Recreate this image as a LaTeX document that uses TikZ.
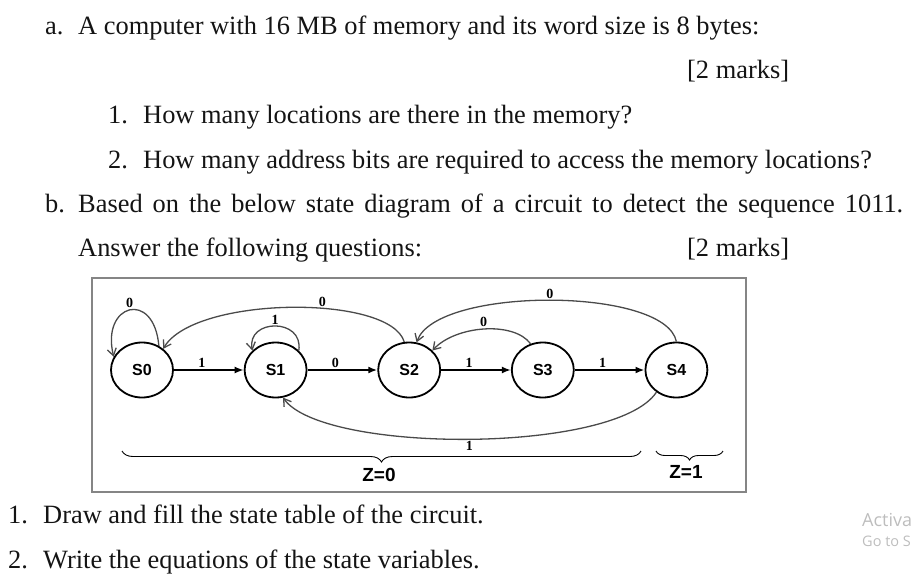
\documentclass[tikz,border=0pt]{standalone}
\usepackage{fontspec}
\setmainfont{Liberation Serif}
\setsansfont{Liberation Sans}
\newfontfamily\winfont{Open Sans}
\usetikzlibrary{calc,arrows.meta,shapes.geometric,decorations.pathreplacing}

\definecolor{framegray}{HTML}{858585}
\definecolor{arcgray}{HTML}{4A4A4A}
\definecolor{markgray}{HTML}{BDBDBD}

\tikzset{
    state/.style={draw, ellipse, line width=1.8pt, minimum width=62pt, minimum height=55pt,
        inner sep=0pt, font=\sffamily\bfseries\fontsize{16}{16}\selectfont},
    txt/.style={anchor=base west, inner sep=0pt, text=black!92,
        font=\fontsize{26.4}{30}\selectfont},
    go/.style={-{Latex[length=9pt,width=7pt]}, line width=1.8pt},
    back/.style={-{Straight Barb[length=7pt,width=9pt]}, line width=1.3pt, draw=arcgray},
    lbl/.style={inner sep=1.5pt, text=black, font=\bfseries\fontsize{14}{14}\selectfont},
    zlbl/.style={inner sep=0pt, font=\sffamily\bfseries\fontsize{19}{19}\selectfont},
}

\begin{document}
\begin{tikzpicture}[x=1pt,y=-1pt]
    \useasboundingbox (0,0) rectangle (913,581);
    \clip (0,0) rectangle (913,581);

    \node[txt] (qa) at (45,34) {a.};
    \node[txt] (qatext) at (78,34) {A computer with 16 MB of memory and its word size is 8 bytes:};
    \node[txt] (marka) at (687,78) {[2 marks]};
    \node[txt] (qa1) at (108,123) {1.};
    \node[txt] (qa1text) at (143,123) {How many locations are there in the memory?};
    \node[txt] (qa2) at (108,168) {2.};
    \node[txt] (qa2text) at (143,168) {How many address bits are required to access the memory locations?};
    \node[txt] (qb) at (45,212) {b.};
    \node[txt] (qbtext) at (78,212) {\makebox[825pt][s]{Based on the below state diagram of a circuit to detect the sequence 1011.}};
    \node[txt] (qbtext2) at (78,256) {Answer the following questions:};
    \node[txt] (markb) at (687,256) {[2 marks]};
    \node[txt] (qb1) at (8,523) {1.};
    \node[txt] (qb1text) at (43,523) {Draw and fill the state table of the circuit.};
    \node[txt] (qb2) at (8,568) {2.};
    \node[txt] (qb2text) at (43,568) {Write the equations of the state variables.};

    % state diagram
    \draw[framegray, line width=2pt] (92,278) rectangle (746,492);

    \foreach \i in {0,...,4}
        \node[state] (s\i) at (142+133.6*\i,370) {S\i};

    \foreach \a/\b/\v in {0/1/1, 1/2/0, 2/3/1, 3/4/1}
        \draw[go] (s\a) -- (s\b) node[lbl, above, pos=0.4] {\v};

    \draw[back] (s0.55) .. controls +(-5,-57) and +(-13,-53) .. (s0.155) node[lbl, above, pos=0.5] {0};
    \draw[back] (s1.40) .. controls +(5,-33) and +(-6,-32) .. (s1.140) node[lbl, above, pos=0.5] {1};
    \draw[back] (s2.100) .. controls +(-14,-48) and +(31,-53) .. (s0.45) node[lbl, above, pos=0.4] {0};
    \draw[back] (s3.115) .. controls +(-17,-23) and +(23,-25) .. (s2.40) node[lbl, above, pos=0.5] {0};
    \draw[back] (s4.90) .. controls +(-11,-55) and +(20,-56) .. (s2.75) node[lbl, above, pos=0.5] {0};
    \draw[back] (s4.228) .. controls +(-41,62) and +(40,56) .. (s1.285) node[lbl, below, pos=0.5] {1};

    \coordinate (zl0) at (122,451);
    \coordinate (zr0) at (641,451);
    \coordinate (zl1) at (656,451);
    \coordinate (zr1) at (723,451);
    \draw[decorate, decoration={brace, amplitude=11pt}, line width=0.9pt] (zr0) -- (zl0);
    \draw[decorate, decoration={brace, amplitude=9pt}, line width=0.9pt] (zr1) -- (zl1);
    \node[zlbl] (z0) at (379,475) {Z=0};
    \node[zlbl] (z1) at (686,472) {Z=1};

    \node[anchor=base west, inner sep=0pt, text=markgray, font=\winfont\fontsize{18}{18}\selectfont] (act) at (862,526) {Activa};
    \node[anchor=base west, inner sep=0pt, text=markgray, font=\winfont\fontsize{14.5}{15}\selectfont] (goto) at (862,546) {Go to S};
\end{tikzpicture}
\end{document}
